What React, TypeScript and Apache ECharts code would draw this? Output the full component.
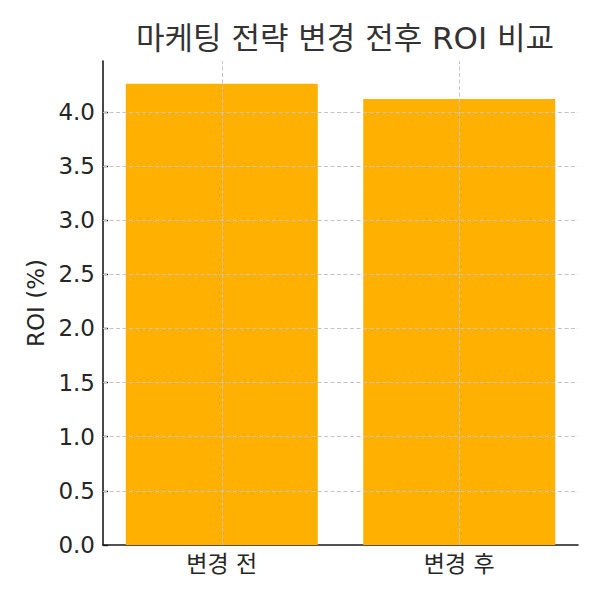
import React, { useEffect, useRef } from "react";
import * as echarts from "echarts";

const title = "마케팅 전략 변경 전후 ROI 비교";
const categories = ["변경 전", "변경 후"];
const roiValues = [4.26, 4.12];
const yTicks = [0, 0.5, 1.0, 1.5, 2.0, 2.5, 3.0, 3.5, 4.0];
const yAxisName = "ROI (%)";
const yMax = 4.47;

const FONT = "'DejaVu Sans', 'Noto Sans CJK KR', sans-serif";

export default function App() {
  const ref = useRef<HTMLDivElement>(null);
  useEffect(() => {
    if (!ref.current) return;
    const chart = echarts.init(ref.current, undefined, { renderer: "svg" });
    const gridStyle = { color: "#c4c4c4", width: 1, type: [4, 2.5] as any };
    chart.setOption({
      animation: false,
      textStyle: { fontFamily: FONT },
      title: {
        text: title,
        left: 340,
        textAlign: "center",
        top: 17,
        textStyle: { fontFamily: FONT, fontSize: 31, fontWeight: "normal", color: "#333333" },
      },
      grid: { left: 103, right: 22, top: 61, bottom: 55 },
      xAxis: {
        type: "category",
        data: categories,
        boundaryGap: true,
        axisLine: { lineStyle: { color: "#1a1a1a", width: 1.6 } },
        axisTick: { show: true, inside: true, length: 5, alignWithLabel: true, lineStyle: { color: "#1a1a1a", width: 1.4 } },
        axisLabel: { fontFamily: FONT, fontSize: 23, color: "#262626", margin: 7 },
        splitLine: { show: false },
      },
      yAxis: {
        type: "value",
        min: 0,
        max: yMax,
        name: yAxisName,
        nameLocation: "middle",
        nameGap: 56,
        nameTextStyle: { fontFamily: FONT, fontSize: 23, color: "#262626" },
        axisLine: { show: true, lineStyle: { color: "#1a1a1a", width: 1.6 } },
        axisTick: { show: true, inside: true, length: 5, customValues: yTicks, lineStyle: { color: "#1a1a1a", width: 1.4 } },
        axisLabel: {
          fontFamily: FONT,
          fontSize: 23,
          color: "#262626",
          margin: 8,
          customValues: yTicks,
          formatter: (v: number) => v.toFixed(1),
        },
        splitLine: { show: false },
      },
      series: [
        {
          type: "bar",
          data: roiValues,
          barWidth: 192,
          itemStyle: { color: "#ffb000" },
          markLine: {
            silent: true,
            symbol: "none",
            z: 5,
            label: { show: false },
            lineStyle: gridStyle,
            emphasis: { disabled: true },
            data: [
              ...yTicks.filter((t) => t > 0).map((t) => ({ yAxis: t })),
              ...categories.map((c) => ({ xAxis: c })),
            ],
          },
        },
      ],
    });
    return () => chart.dispose();
  }, []);
  return <div ref={ref} style={{ width: 600, height: 600, margin: -8 }} />;
}
